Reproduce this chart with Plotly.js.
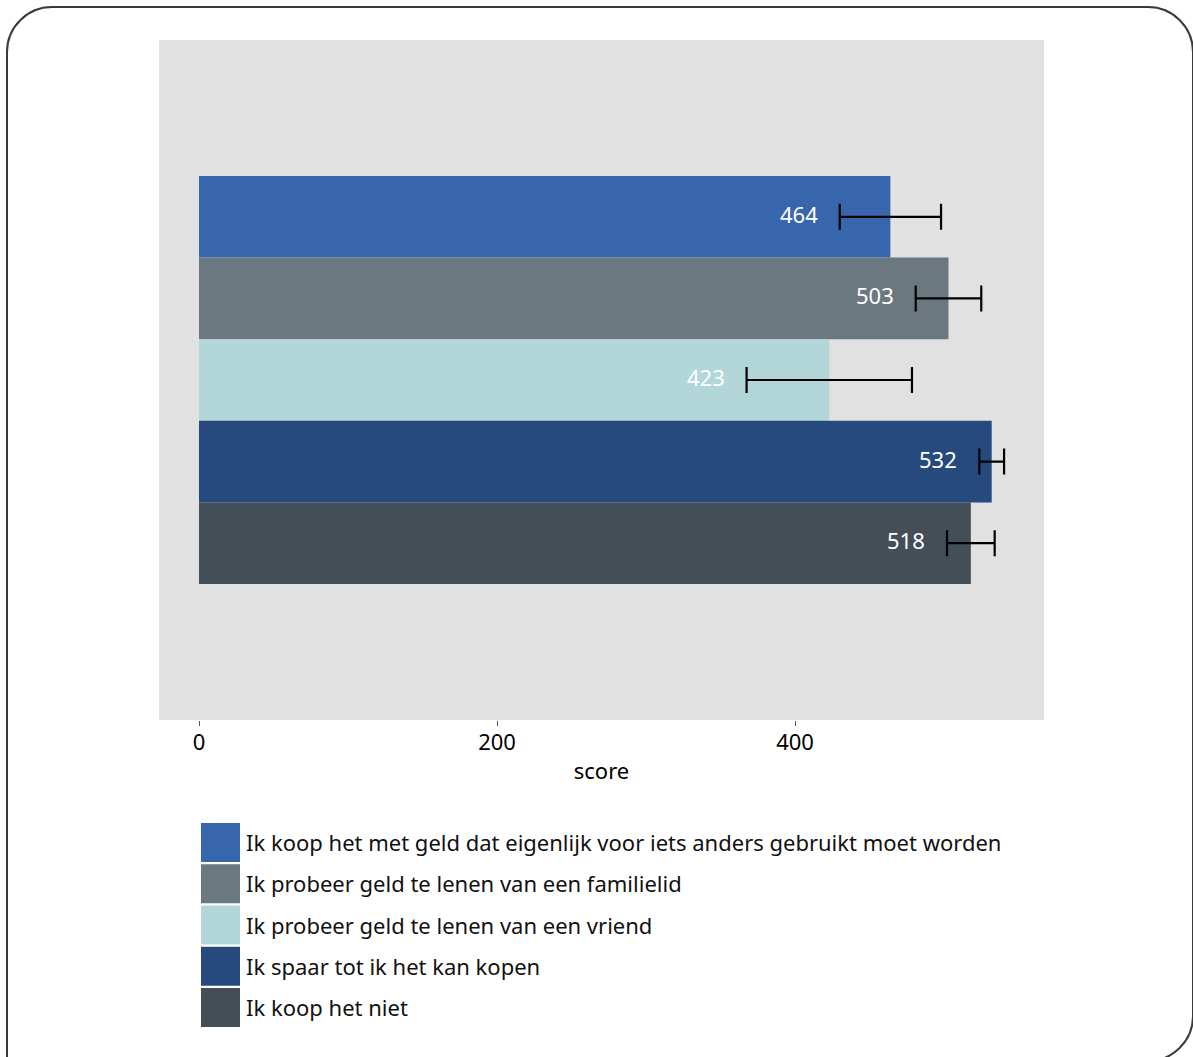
<!DOCTYPE html>
<html>
<head>
<meta charset="utf-8">
<script src="https://cdn.plot.ly/plotly-3.0.1.min.js"></script>
<style>
  html, body { margin: 0; padding: 0; background: #ffffff; }
  #wrap { position: relative; width: 1193px; height: 1057px; overflow: hidden; }
  #chart { position: absolute; left: 0; top: 0; width: 1193px; height: 1057px; }
  #frame { position: absolute; left: 6px; top: 6px; width: 1188px; height: 1056px;
           box-sizing: border-box; border: 2px solid #3a3a3a;
           border-radius: 46px 46px 46px 0; pointer-events: none; }
</style>
</head>
<body>
<div id="wrap">
  <div id="chart"></div>
  <div id="frame"></div>
</div>
<script>
// ---- data ----
const seriesNames = [
  "Ik koop het met geld dat eigenlijk voor iets anders gebruikt moet worden",
  "Ik probeer geld te lenen van een familielid",
  "Ik probeer geld te lenen van een vriend",
  "Ik spaar tot ik het kan kopen",
  "Ik koop het niet"
];
const scores = [464, 503, 423, 532, 518];
const errors = [34, 22, 55.5, 8.3, 16];
const colors = ["#3866ad", "#6c7880", "#b3d6d8", "#274a7e", "#434e57"];
const xTickVals = [0, 200, 400];
const xTitle = "score";

const FONT = "Noto Sans, Open Sans, sans-serif";

const traces = seriesNames.map((name, i) => ({
  type: "bar",
  orientation: "h",
  name: name,
  x: [scores[i]],
  y: [0],
  marker: { color: colors[i], line: { width: 0 } },
  error_x: { type: "data", array: [errors[i]], visible: true,
             color: "#000000", thickness: 2.2, width: 13 },
  hoverinfo: "x+name"
}));

const annotations = [];
const shapes = [];

// value labels (placed left of the lower error cap)
seriesNames.forEach((name, i) => {
  const off = (i - 2) * 0.12; // group offset for trace i (bargap 0.4, 5 traces)
  annotations.push({
    xref: "x", yref: "y",
    x: scores[i] - errors[i], y: off,
    text: String(scores[i]),
    showarrow: false, xanchor: "right", yanchor: "middle", xshift: -20, yshift: 3,
    font: { family: FONT, size: 22, color: "#ffffff" }
  });
});

// custom legend (large colour boxes)
const plotTop = 40, plotH = 680, plotLeft = 159, plotW = 885;
const toPy = py => (plotTop + plotH - py) / plotH;
const toPx = px => (px - plotLeft) / plotW;
seriesNames.forEach((name, i) => {
  const top = 823 + 41.25 * i;
  shapes.push({
    type: "rect", xref: "paper", yref: "paper",
    x0: toPx(201), x1: toPx(240), y0: toPy(top + 39), y1: toPy(top),
    fillcolor: colors[i], line: { width: 0 }
  });
  annotations.push({
    xref: "paper", yref: "paper",
    x: toPx(244), y: toPy(top + 19),
    text: name, showarrow: false, xanchor: "left", yanchor: "middle",
    font: { family: FONT, size: 22, color: "#111111" }
  });
});

const layout = {
  width: 1193, height: 1057,
  margin: { l: 159, r: 149, t: 40, b: 337, pad: 0 },
  paper_bgcolor: "rgba(0,0,0,0)",
  plot_bgcolor: "#e1e1e1",
  barmode: "group",
  bargap: 0.4,
  bargroupgap: 0,
  showlegend: false,
  font: { family: FONT, size: 22, color: "#000000" },
  xaxis: {
    range: [-26.85, 567.1],
    tickmode: "array", tickvals: xTickVals,
    ticks: "outside", ticklen: 5, tickwidth: 1, tickcolor: "#555555",
    ticklabelstandoff: -2,
    showgrid: false, zeroline: false, showline: false,
    tickfont: { family: FONT, size: 22, color: "#000000" },
    title: { text: xTitle, font: { family: FONT, size: 22, color: "#000000" }, standoff: 8 }
  },
  yaxis: {
    range: [0.5, -0.5],
    showticklabels: false, ticks: "", showgrid: false, zeroline: false, showline: false
  },
  annotations: annotations,
  shapes: shapes
};

Plotly.newPlot("chart", traces, layout, { displayModeBar: false, staticPlot: true });
</script>
</body>
</html>
